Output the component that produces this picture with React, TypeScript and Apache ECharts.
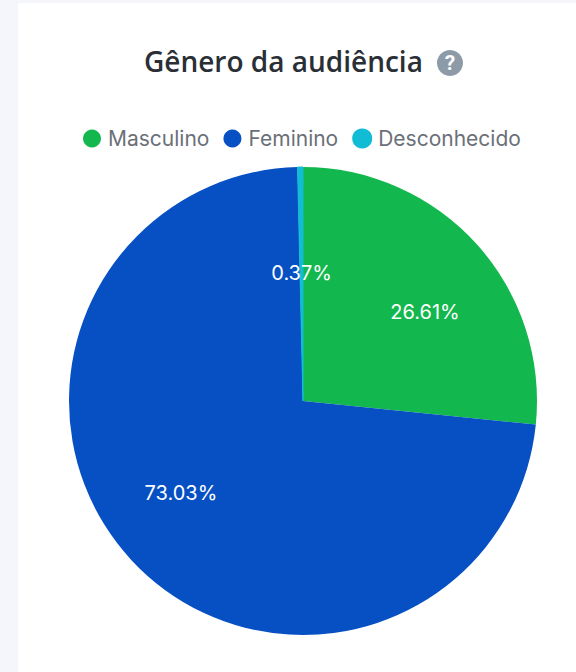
import React, { useEffect, useRef } from "react";
import * as echarts from "echarts";

const categories = ["Masculino", "Feminino", "Desconhecido"];
const shares = [26.61, 73.03, 0.37];
const TITLE = "Gênero da audiência";

export default function App() {
  const ref = useRef<HTMLDivElement>(null);
  useEffect(() => {
    document.body.style.margin = "0";
    const chart = echarts.init(ref.current!, undefined, { renderer: "svg" });
    const cx = 303, cy = 401, R = 234;
    const colors = ["#12B84E", "#0650C4", "#12BCD4"];
    const nudges = [[33, -9], [-34, 11], [0, -8]];
    chart.setOption({
      animation: false,
      backgroundColor: "transparent",
      title: {
        text: TITLE,
        left: 144,
        top: 47,
        padding: 0,
        textStyle: { fontFamily: "Open Sans", fontSize: 28, fontWeight: 600, color: "#2A2F36" },
      },
      legend: {
        top: 128,
        left: 83,
        padding: 0,
        icon: "circle",
        itemWidth: 18,
        itemHeight: 18,
        itemGap: 14,
        data: categories,
        selectedMode: false,
        textStyle: { fontFamily: "Inter", fontSize: 21, color: "#6B7078", padding: [0, 0, 0, 2] },
      },
      graphic: [
        {
          type: "circle",
          shape: { cx: 450, cy: 63, r: 13 },
          style: { fill: "#8D9BA8" },
        },
        {
          type: "text",
          x: 450,
          y: 63,
          style: {
            text: "?",
            fill: "#FFFFFF",
            fontFamily: "Roboto",
            fontWeight: 700,
            fontSize: 21,
            align: "center",
            verticalAlign: "middle",
          },
        },
      ],
      series: [
        {
          type: "pie",
          center: [cx, cy],
          radius: [0, R],
          startAngle: 90,
          clockwise: true,
          avoidLabelOverlap: false,
          data: categories.map((name, i) => ({
            name,
            value: shares[i],
            itemStyle: { color: colors[i], borderColor: colors[i], borderWidth: i === 2 ? 1 : 0 },
          })),
          label: {
            show: true,
            position: "inner",
            formatter: (p: any) => `${shares[p.dataIndex].toFixed(2)}%`,
            fontFamily: "Inter",
            fontSize: 20,
            color: "#FFFFFF",
            textBorderWidth: 0,
          },
          labelLine: { show: false },
          labelLayout: (p: any) => ({ dx: nudges[p.dataIndex][0], dy: nudges[p.dataIndex][1] }),
          emphasis: { disabled: true },
        },
      ],
    });
    return () => chart.dispose();
  }, []);
  return (
    <div style={{ position: "fixed", left: 0, top: 0, width: 576, height: 672, background: "#F5F6FB", overflow: "hidden" }}>
      <div style={{ position: "absolute", left: 18, top: 3, width: 558, height: 669, background: "#FFFFFF" }} />
      <div ref={ref} style={{ position: "absolute", left: 0, top: 0, width: 576, height: 672 }} />
    </div>
  );
}
